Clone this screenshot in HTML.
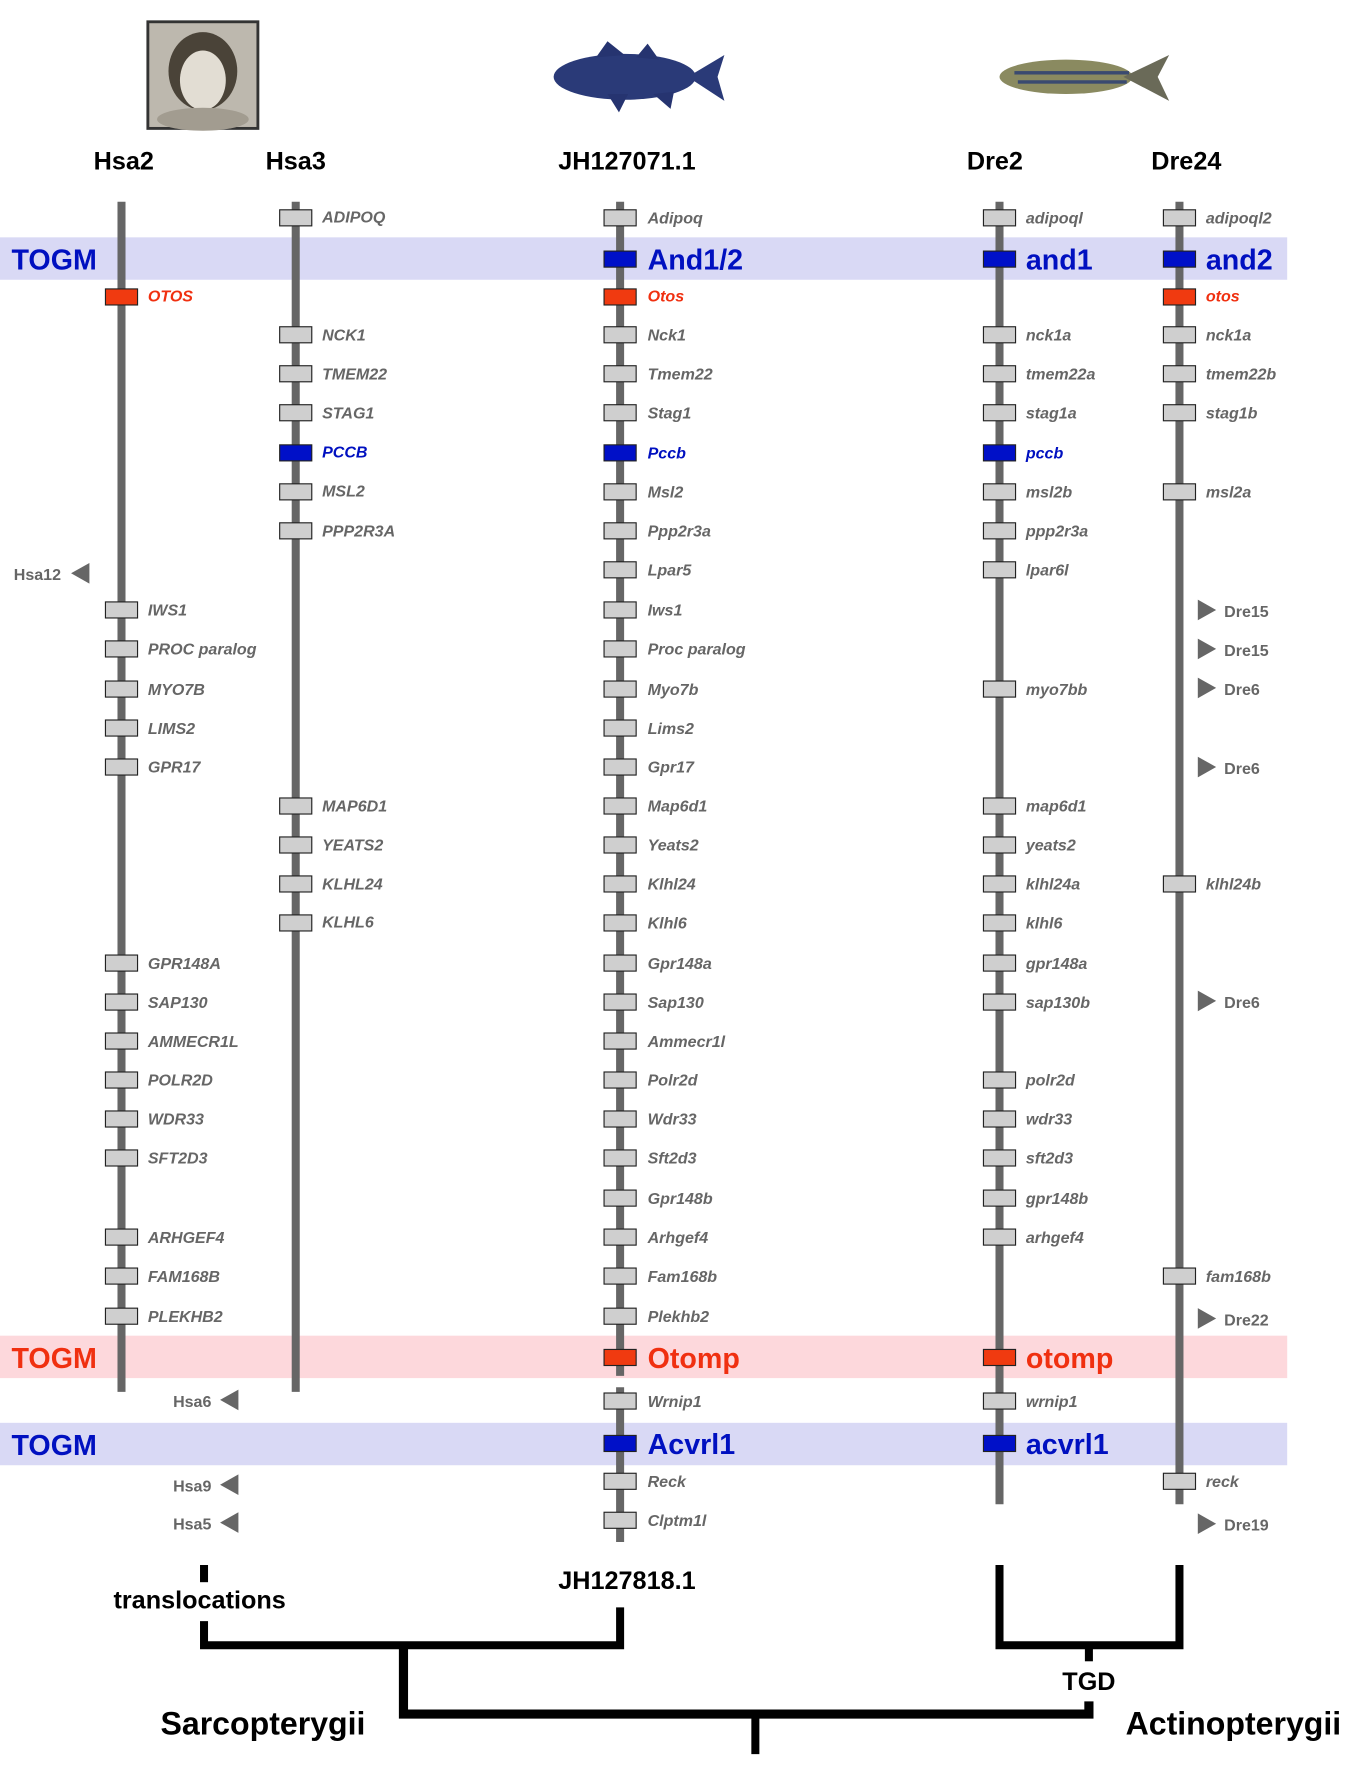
<!DOCTYPE html>
<html><head><meta charset="utf-8"><style>
html,body{margin:0;padding:0;background:#fff}
svg{display:block}
text{font-family:"Liberation Sans",Arial,sans-serif}
.h{font-size:22px;font-weight:bold;fill:#000}
.g{font-size:14px;font-weight:bold;font-style:italic;fill:#666}
.r{fill:#f03010}
.bl{fill:#0010c0}
.big{font-size:25px;font-weight:bold;font-style:normal}
.a{font-size:14px;font-weight:bold;fill:#666}
rect.bx,rect.rb,rect.bb{height:14px}
.bx{fill:#cfcfcf;stroke:#222;stroke-width:1}
.rb{fill:#f03a10;stroke:#222;stroke-width:1}
.bb{fill:#0010c8;stroke:#222;stroke-width:1}
.ln{stroke:#666;stroke-width:7}
.t{stroke:#000;stroke-width:7;fill:none}
</style></head><body>
<svg width="1364" height="1792" viewBox="0 0 1190 1563" preserveAspectRatio="none" xmlns="http://www.w3.org/2000/svg">
<rect x="129" y="19" width="96" height="93" fill="#bdb8ae" stroke="#333" stroke-width="2.5"/>
<ellipse cx="177" cy="62" rx="30" ry="34" fill="#4a4338"/>
<ellipse cx="177" cy="70" rx="20" ry="26" fill="#e2ddd3"/>
<ellipse cx="177" cy="104" rx="40" ry="10" fill="#a29c90"/>
<ellipse cx="545" cy="67" rx="62" ry="20" fill="#2a3a78"/>
<path d="M600 67 L632 48 L626 67 L632 88 Z" fill="#2a3a78"/>
<path d="M520 50 L530 36 L545 48 Z M555 50 L565 38 L575 52 Z M530 82 L540 98 L548 82 Z M570 82 L585 95 L588 80Z" fill="#263470"/>
<ellipse cx="930" cy="67" rx="58" ry="15" fill="#8a8a60"/>
<rect x="885" y="62" width="100" height="3" fill="#3a4a70"/>
<rect x="888" y="70" width="95" height="3" fill="#3a4a70"/>
<path d="M980 67 L1020 48 L1010 67 L1020 88 Z" fill="#6a6a58"/>
<text class="h" x="108" y="148" text-anchor="middle">Hsa2</text>
<text class="h" x="258" y="148" text-anchor="middle">Hsa3</text>
<text class="h" x="547" y="148" text-anchor="middle">JH127071.1</text>
<text class="h" x="868" y="148" text-anchor="middle">Dre2</text>
<text class="h" x="1035" y="148" text-anchor="middle">Dre24</text>
<rect x="0" y="207" width="1123" height="37" fill="#d9d9f5"/>
<rect x="0" y="1165" width="1123" height="37" fill="#fdd8dc"/>
<rect x="0" y="1241" width="1123" height="37" fill="#d9d9f5"/>
<text class="big bl" x="10" y="235">TOGM</text>
<text class="big r" x="10" y="1193">TOGM</text>
<text class="big bl" x="10" y="1269">TOGM</text>
<line class="ln" x1="106" y1="176" x2="106" y2="1214"/>
<line class="ln" x1="258" y1="176" x2="258" y2="1214"/>
<line class="ln" x1="541" y1="176" x2="541" y2="1200"/>
<line class="ln" x1="541" y1="1210" x2="541" y2="1345"/>
<line class="ln" x1="872" y1="176" x2="872" y2="1312"/>
<line class="ln" x1="1029" y1="176" x2="1029" y2="1312"/>
<g transform="translate(0,-1)">
<rect class="rb" x="92" y="253" width="28" height="14"/><text class="g r" x="129" y="264">OTOS</text>
<rect class="bx" x="92" y="526" width="28" height="14"/><text class="g" x="129" y="538">IWS1</text>
<rect class="bx" x="92" y="560" width="28" height="14"/><text class="g" x="129" y="572">PROC paralog</text>
<rect class="bx" x="92" y="595" width="28" height="14"/><text class="g" x="129" y="607">MYO7B</text>
<rect class="bx" x="92" y="629" width="28" height="14"/><text class="g" x="129" y="641">LIMS2</text>
<rect class="bx" x="92" y="663" width="28" height="14"/><text class="g" x="129" y="675">GPR17</text>
<rect class="bx" x="92" y="834" width="28" height="14"/><text class="g" x="129" y="846">GPR148A</text>
<rect class="bx" x="92" y="868" width="28" height="14"/><text class="g" x="129" y="880">SAP130</text>
<rect class="bx" x="92" y="902" width="28" height="14"/><text class="g" x="129" y="914">AMMECR1L</text>
<rect class="bx" x="92" y="936" width="28" height="14"/><text class="g" x="129" y="948">POLR2D</text>
<rect class="bx" x="92" y="970" width="28" height="14"/><text class="g" x="129" y="982">WDR33</text>
<rect class="bx" x="92" y="1004" width="28" height="14"/><text class="g" x="129" y="1016">SFT2D3</text>
<rect class="bx" x="92" y="1073" width="28" height="14"/><text class="g" x="129" y="1085">ARHGEF4</text>
<rect class="bx" x="92" y="1107" width="28" height="14"/><text class="g" x="129" y="1119">FAM168B</text>
<rect class="bx" x="92" y="1142" width="28" height="14"/><text class="g" x="129" y="1154">PLEKHB2</text>
<rect class="bx" x="244" y="184" width="28" height="14"/><text class="g" x="281" y="195">ADIPOQ</text>
<rect class="bx" x="244" y="286" width="28" height="14"/><text class="g" x="281" y="298">NCK1</text>
<rect class="bx" x="244" y="320" width="28" height="14"/><text class="g" x="281" y="332">TMEM22</text>
<rect class="bx" x="244" y="354" width="28" height="14"/><text class="g" x="281" y="366">STAG1</text>
<rect class="bb" x="244" y="389" width="28" height="14"/><text class="g bl" x="281" y="400">PCCB</text>
<rect class="bx" x="244" y="423" width="28" height="14"/><text class="g" x="281" y="434">MSL2</text>
<rect class="bx" x="244" y="457" width="28" height="14"/><text class="g" x="281" y="469">PPP2R3A</text>
<rect class="bx" x="244" y="697" width="28" height="14"/><text class="g" x="281" y="709">MAP6D1</text>
<rect class="bx" x="244" y="731" width="28" height="14"/><text class="g" x="281" y="743">YEATS2</text>
<rect class="bx" x="244" y="765" width="28" height="14"/><text class="g" x="281" y="777">KLHL24</text>
<rect class="bx" x="244" y="799" width="28" height="14"/><text class="g" x="281" y="810">KLHL6</text>
<rect class="bx" x="527" y="184" width="28" height="14"/><text class="g" x="565" y="196">Adipoq</text>
<rect class="bb" x="527" y="220" width="28" height="14"/><text class="big bl" x="565" y="236">And1/2</text>
<rect class="rb" x="527" y="253" width="28" height="14"/><text class="g r" x="565" y="264">Otos</text>
<rect class="bx" x="527" y="286" width="28" height="14"/><text class="g" x="565" y="298">Nck1</text>
<rect class="bx" x="527" y="320" width="28" height="14"/><text class="g" x="565" y="332">Tmem22</text>
<rect class="bx" x="527" y="354" width="28" height="14"/><text class="g" x="565" y="366">Stag1</text>
<rect class="bb" x="527" y="389" width="28" height="14"/><text class="g bl" x="565" y="401">Pccb</text>
<rect class="bx" x="527" y="423" width="28" height="14"/><text class="g" x="565" y="435">Msl2</text>
<rect class="bx" x="527" y="457" width="28" height="14"/><text class="g" x="565" y="469">Ppp2r3a</text>
<rect class="bx" x="527" y="491" width="28" height="14"/><text class="g" x="565" y="503">Lpar5</text>
<rect class="bx" x="527" y="526" width="28" height="14"/><text class="g" x="565" y="538">Iws1</text>
<rect class="bx" x="527" y="560" width="28" height="14"/><text class="g" x="565" y="572">Proc paralog</text>
<rect class="bx" x="527" y="595" width="28" height="14"/><text class="g" x="565" y="607">Myo7b</text>
<rect class="bx" x="527" y="629" width="28" height="14"/><text class="g" x="565" y="641">Lims2</text>
<rect class="bx" x="527" y="663" width="28" height="14"/><text class="g" x="565" y="675">Gpr17</text>
<rect class="bx" x="527" y="697" width="28" height="14"/><text class="g" x="565" y="709">Map6d1</text>
<rect class="bx" x="527" y="731" width="28" height="14"/><text class="g" x="565" y="743">Yeats2</text>
<rect class="bx" x="527" y="765" width="28" height="14"/><text class="g" x="565" y="777">Klhl24</text>
<rect class="bx" x="527" y="799" width="28" height="14"/><text class="g" x="565" y="811">Klhl6</text>
<rect class="bx" x="527" y="834" width="28" height="14"/><text class="g" x="565" y="846">Gpr148a</text>
<rect class="bx" x="527" y="868" width="28" height="14"/><text class="g" x="565" y="880">Sap130</text>
<rect class="bx" x="527" y="902" width="28" height="14"/><text class="g" x="565" y="914">Ammecr1l</text>
<rect class="bx" x="527" y="936" width="28" height="14"/><text class="g" x="565" y="948">Polr2d</text>
<rect class="bx" x="527" y="970" width="28" height="14"/><text class="g" x="565" y="982">Wdr33</text>
<rect class="bx" x="527" y="1004" width="28" height="14"/><text class="g" x="565" y="1016">Sft2d3</text>
<rect class="bx" x="527" y="1039" width="28" height="14"/><text class="g" x="565" y="1051">Gpr148b</text>
<rect class="bx" x="527" y="1073" width="28" height="14"/><text class="g" x="565" y="1085">Arhgef4</text>
<rect class="bx" x="527" y="1107" width="28" height="14"/><text class="g" x="565" y="1119">Fam168b</text>
<rect class="bx" x="527" y="1142" width="28" height="14"/><text class="g" x="565" y="1154">Plekhb2</text>
<rect class="rb" x="527" y="1178" width="28" height="14"/><text class="big r" x="565" y="1194">Otomp</text>
<rect class="bx" x="527" y="1216" width="28" height="14"/><text class="g" x="565" y="1228">Wrnip1</text>
<rect class="bb" x="527" y="1253" width="28" height="14"/><text class="big bl" x="565" y="1269">Acvrl1</text>
<rect class="bx" x="527" y="1286" width="28" height="14"/><text class="g" x="565" y="1298">Reck</text>
<rect class="bx" x="527" y="1320" width="28" height="14"/><text class="g" x="565" y="1332">Clptm1l</text>
<rect class="bx" x="858" y="184" width="28" height="14"/><text class="g" x="895" y="196">adipoql</text>
<rect class="bb" x="858" y="220" width="28" height="14"/><text class="big bl" x="895" y="236">and1</text>
<rect class="bx" x="858" y="286" width="28" height="14"/><text class="g" x="895" y="298">nck1a</text>
<rect class="bx" x="858" y="320" width="28" height="14"/><text class="g" x="895" y="332">tmem22a</text>
<rect class="bx" x="858" y="354" width="28" height="14"/><text class="g" x="895" y="366">stag1a</text>
<rect class="bb" x="858" y="389" width="28" height="14"/><text class="g bl" x="895" y="401">pccb</text>
<rect class="bx" x="858" y="423" width="28" height="14"/><text class="g" x="895" y="435">msl2b</text>
<rect class="bx" x="858" y="457" width="28" height="14"/><text class="g" x="895" y="469">ppp2r3a</text>
<rect class="bx" x="858" y="491" width="28" height="14"/><text class="g" x="895" y="503">lpar6l</text>
<rect class="bx" x="858" y="595" width="28" height="14"/><text class="g" x="895" y="607">myo7bb</text>
<rect class="bx" x="858" y="697" width="28" height="14"/><text class="g" x="895" y="709">map6d1</text>
<rect class="bx" x="858" y="731" width="28" height="14"/><text class="g" x="895" y="743">yeats2</text>
<rect class="bx" x="858" y="765" width="28" height="14"/><text class="g" x="895" y="777">klhl24a</text>
<rect class="bx" x="858" y="799" width="28" height="14"/><text class="g" x="895" y="811">klhl6</text>
<rect class="bx" x="858" y="834" width="28" height="14"/><text class="g" x="895" y="846">gpr148a</text>
<rect class="bx" x="858" y="868" width="28" height="14"/><text class="g" x="895" y="880">sap130b</text>
<rect class="bx" x="858" y="936" width="28" height="14"/><text class="g" x="895" y="948">polr2d</text>
<rect class="bx" x="858" y="970" width="28" height="14"/><text class="g" x="895" y="982">wdr33</text>
<rect class="bx" x="858" y="1004" width="28" height="14"/><text class="g" x="895" y="1016">sft2d3</text>
<rect class="bx" x="858" y="1039" width="28" height="14"/><text class="g" x="895" y="1051">gpr148b</text>
<rect class="bx" x="858" y="1073" width="28" height="14"/><text class="g" x="895" y="1085">arhgef4</text>
<rect class="rb" x="858" y="1178" width="28" height="14"/><text class="big r" x="895" y="1194">otomp</text>
<rect class="bx" x="858" y="1216" width="28" height="14"/><text class="g" x="895" y="1228">wrnip1</text>
<rect class="bb" x="858" y="1253" width="28" height="14"/><text class="big bl" x="895" y="1269">acvrl1</text>
<rect class="bx" x="1015" y="184" width="28" height="14"/><text class="g" x="1052" y="196">adipoql2</text>
<rect class="bb" x="1015" y="220" width="28" height="14"/><text class="big bl" x="1052" y="236">and2</text>
<rect class="rb" x="1015" y="253" width="28" height="14"/><text class="g r" x="1052" y="264">otos</text>
<rect class="bx" x="1015" y="286" width="28" height="14"/><text class="g" x="1052" y="298">nck1a</text>
<rect class="bx" x="1015" y="320" width="28" height="14"/><text class="g" x="1052" y="332">tmem22b</text>
<rect class="bx" x="1015" y="354" width="28" height="14"/><text class="g" x="1052" y="366">stag1b</text>
<rect class="bx" x="1015" y="423" width="28" height="14"/><text class="g" x="1052" y="435">msl2a</text>
<rect class="bx" x="1015" y="765" width="28" height="14"/><text class="g" x="1052" y="777">klhl24b</text>
<rect class="bx" x="1015" y="1107" width="28" height="14"/><text class="g" x="1052" y="1119">fam168b</text>
<rect class="bx" x="1015" y="1286" width="28" height="14"/><text class="g" x="1052" y="1298">reck</text>
</g>
<g fill="#666">
<path d="M1045 523 L1061 532 L1045 541Z"/><text class="a" x="1068" y="538">Dre15</text>
<path d="M1045 557 L1061 566 L1045 575Z"/><text class="a" x="1068" y="572">Dre15</text>
<path d="M1045 591 L1061 600 L1045 609Z"/><text class="a" x="1068" y="606">Dre6</text>
<path d="M1045 660 L1061 669 L1045 678Z"/><text class="a" x="1068" y="675">Dre6</text>
<path d="M1045 864 L1061 873 L1045 882Z"/><text class="a" x="1068" y="879">Dre6</text>
<path d="M1045 1141 L1061 1150 L1045 1159Z"/><text class="a" x="1068" y="1156">Dre22</text>
<path d="M1045 1320 L1061 1329 L1045 1338Z"/><text class="a" x="1068" y="1335">Dre19</text>
<text class="a" x="12" y="506">Hsa12</text><path d="M78 491 L62 500 L78 509Z"/>
<text class="a" x="151" y="1227">Hsa6</text><path d="M208 1212 L192 1221 L208 1230Z"/>
<text class="a" x="151" y="1301">Hsa9</text><path d="M208 1286 L192 1295 L208 1304Z"/>
<text class="a" x="151" y="1334">Hsa5</text><path d="M208 1319 L192 1328 L208 1337Z"/>
</g>
<line class="t" x1="178" y1="1365" x2="178" y2="1380"/>
<text class="h" x="99" y="1403">translocations</text>
<text class="h" x="547" y="1386" text-anchor="middle">JH127818.1</text>
<path class="t" d="M178 1414 V1435 H541 V1402"/>
<path class="t" d="M872 1365 V1435 H1029 V1365"/>
<line class="t" x1="950" y1="1435" x2="950" y2="1449"/>
<text class="h" x="950" y="1474" text-anchor="middle">TGD</text>
<path class="t" d="M352 1435 V1495 H950 V1484" style="stroke-width:8"/>
<line class="t" x1="659" y1="1495" x2="659" y2="1530"/>
<text class="h" x="140" y="1513" style="font-size:28px">Sarcopterygii</text>
<text class="h" x="982" y="1513" style="font-size:28px">Actinopterygii</text>
</svg>
</body></html>
